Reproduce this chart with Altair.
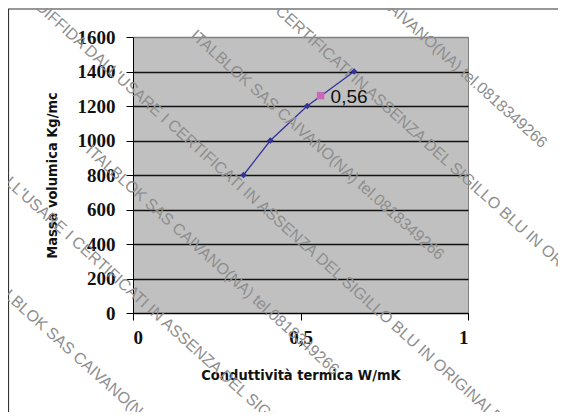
import altair as alt
import pandas as pd

# ---- data ----
conductivity = [0.33, 0.41, 0.52, 0.66]      # W/mK
density = [800, 1000, 1200, 1400]            # Kg/mc
highlight_x = [0.56]
highlight_y = [1260]
highlight_label = ["0,56"]
x_ticks = [0, 0.5, 1]
y_ticks = [0, 200, 400, 600, 800, 1000, 1200, 1400, 1600]

watermark_texts = [
    "DIFFIDA DALL'USARE I CERTIFICATI IN ASSENZA DEL SIGILLO BLU IN ORIGINALE",
    "ITALBLOK SAS CAIVANO(NA) tel.0818349266",
    "DALL'USARE I CERTIFICATI IN ASSENZA DEL SIGILLO BLU IN ORIGINALE",
    "ITALBLOK SAS CAIVANO(NA) tel.0818349266",
    "ITALBLOK SAS CAIVANO(NA) tel.0818349266",
    "DALL'USARE I CERTIFICATI IN ASSENZA DEL SIGILLO BLU IN ORIGINALE",
    "ITALBLOK SAS CAIVANO(NA) tel.0818349266",
]

W, H = 335, 276
TITLE_FONT = "DejaVu Sans Condensed, Liberation Sans Narrow, Liberation Sans"
LABEL_FONT = "Liberation Serif"

series = pd.DataFrame({"x": conductivity, "y": density})
highlight = pd.DataFrame({"x": highlight_x, "y": highlight_y, "label": highlight_label})
one = pd.DataFrame({"k": [0]})

xscale = alt.Scale(domain=[0, 1], nice=False, zero=False)
yscale = alt.Scale(domain=[0, 1600], nice=False)

xaxis = alt.Axis(
    values=x_ticks, grid=False, tickSize=7, tickColor="black", domainColor="black",
    format="~g", labelExpr="replace(datum.label, '.', ',')", labelOverlap=False,
    labelFont=LABEL_FONT, labelFontSize=19, labelFontWeight="bold", labelColor="#111",
    labelPadding=8,
    title="Conduttività termica W/mK", titleFont=TITLE_FONT, titleFontSize=14.5,
    titleFontWeight="bold", titleColor="#111", titleX=W / 2, titleY=62,
    titleBaseline="middle", titleAlign="center",
)
yaxis = alt.Axis(
    values=y_ticks, grid=True, tickSize=7, tickColor="black", domainColor="black",
    format="d", labelOverlap=False,
    gridColor=alt.condition("datum.value >= 1600", alt.value("#808080"), alt.value("#111111")),
    gridWidth=1.5,
    labelFont=LABEL_FONT, labelFontSize=19, labelFontWeight="bold", labelColor="#111",
    labelPadding=11,
    title="Massa volumica Kg/mc", titleFont=TITLE_FONT, titleFontSize=14.5,
    titleFontWeight="bold", titleColor="#111", titleX=-81, titleY=H / 2,
    titleAngle=-90, titleBaseline="middle", titleAlign="center",
)

X = alt.X("x:Q", scale=xscale, axis=xaxis)
Y = alt.Y("y:Q", scale=yscale, axis=yaxis)

frame = alt.Chart(one).mark_rect(filled=False, stroke="#333333", strokeWidth=1.2).encode(
    x=alt.value(-124.5), y=alt.value(-28), x2=alt.value(700), y2=alt.value(700)
)

line = alt.Chart(series).mark_line(color="#333399", strokeWidth=1.3).encode(x=X, y=Y)
pts = alt.Chart(series).mark_point(
    shape="diamond", filled=True, color="#333399", size=45, opacity=1
).encode(x=X, y=Y)

hl = alt.Chart(highlight).mark_square(color="#CC66BB", size=55, opacity=1).encode(x=X, y=Y)
hl_text = alt.Chart(highlight).mark_text(
    align="left", baseline="middle", dx=10, dy=1, font="Liberation Sans",
    fontSize=19, color="#111"
).encode(x=X, y=Y, text="label:N")

# watermark (decoration) start positions relative to the plot origin
wm_pos = [(-95, -33), (60, -4), (62, -103), (163, -116), (-45, 111), (-142, 128), (-144, 240)]
wm_layers = []
for txt, (px, py) in zip(watermark_texts, wm_pos):
    wm_layers.append(
        alt.Chart(one).mark_text(
            text=txt, angle=42, align="left", baseline="middle",
            font="Liberation Sans", fontSize=16, color="#8e8e8e"
        ).encode(x=alt.value(px), y=alt.value(py))
    )

chart = alt.layer(frame, line, pts, hl, hl_text, *wm_layers).properties(
    width=W, height=H,
    autosize=alt.AutoSizeParams(type="none"),
    padding={"left": 125, "top": 29, "right": 90, "bottom": 99},
    background="white",
).configure_view(fill="#C0C0C0", stroke="#808080", strokeWidth=1)

chart.save("out.html", embed_options={"renderer": "svg", "actions": False})
